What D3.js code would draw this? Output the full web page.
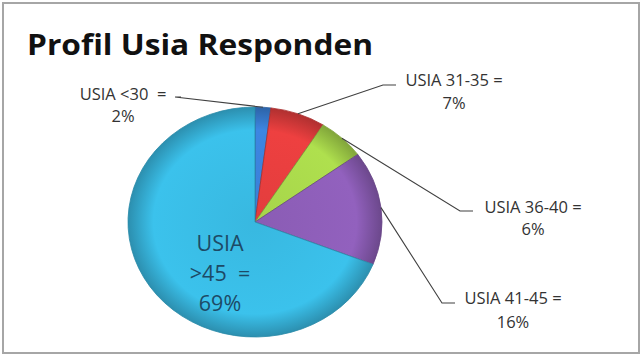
<!DOCTYPE html>
<html>
<head>
<meta charset="utf-8">
<script src="https://cdn.jsdelivr.net/npm/d3@7"></script>
<style>
  body { margin: 0; background: #fff; }
  text { font-family: "Open Sans", "DejaVu Sans", sans-serif; white-space: pre; }
</style>
</head>
<body>
<div id="chart"></div>
<script>
var svgWidth = 644;
var svgHeight = 358;

// data
var categories = ["USIA <30", "USIA 31-35", "USIA 36-40", "USIA 41-45", "USIA >45"];
var values = [2, 7, 6, 16, 69];
var colors = ["#3a7fd6", "#e23d3d", "#a6d44a", "#8a5cb4", "#38b8e0"];

// pie geometry (tilted look = ellipse)
var cx = 255, cy = 222, rx = 127, ry = 115;

var svg = d3.select("#chart")
  .append("svg")
  .attr("width", svgWidth)
  .attr("height", svgHeight);

// frame
svg.append("rect")
  .attr("x", 3).attr("y", 3)
  .attr("width", 636).attr("height", 350)
  .attr("fill", "#fff")
  .attr("stroke", "#a6a6a6")
  .attr("stroke-width", 2);

// title
svg.append("text")
  .attr("x", 27).attr("y", 55)
  .attr("font-size", 29)
  .attr("font-weight", "bold")
  .attr("fill", "#111")
  .attr("textLength", 346)
  .attr("lengthAdjust", "spacingAndGlyphs")
  .text("Profil Usia Responden");

// gradients for a shaded look
var defs = svg.append("defs");
colors.forEach(function(c, i) {
  var g = defs.append("radialGradient")
    .attr("id", "grad" + i)
    .attr("gradientUnits", "userSpaceOnUse")
    .attr("cx", 0).attr("cy", 0).attr("r", ry);
  g.append("stop").attr("offset", "0%").attr("stop-color", c);
  g.append("stop").attr("offset", "80%").attr("stop-color", d3.color(c).brighter(0.15));
  g.append("stop").attr("offset", "100%").attr("stop-color", d3.color(c).darker(0.7));
});

var pie = d3.pie().sort(null).value(function(d) { return d; });
var arcs = pie(values);
var arc = d3.arc().innerRadius(0).outerRadius(ry);

var pieG = svg.append("g")
  .attr("transform", "translate(" + cx + "," + cy + ") scale(" + (rx / ry) + ",1)");

pieG.selectAll("path")
  .data(arcs)
  .enter()
  .append("path")
  .attr("d", arc)
  .attr("fill", function(d, i) { return "url(#grad" + i + ")"; })
  .attr("stroke", function(d, i) { return d3.color(colors[i]).darker(0.8); })
  .attr("stroke-width", 0.8)
  .attr("vector-effect", "non-scaling-stroke");

// point on the ellipse edge at the middle of a slice
function edgePoint(d) {
  var a = (d.startAngle + d.endAngle) / 2;
  return [cx + rx * Math.sin(a), cy - ry * Math.cos(a)];
}

// outside labels: elbow point, text position and lines
var labelPos = [
  { elbow: [175, 97], tip: [181, 97], tx: 123, ty: [100, 122] },
  { elbow: [383, 85], tip: [396, 85], tx: 454, ty: [86, 109] },
  { elbow: [460, 211], tip: [473, 211], tx: 533, ty: [213, 235] },
  { elbow: [442, 303], tip: [455, 303], tx: 513, ty: [304, 328] }
];

var labelLines = [
  ["USIA <30  =", "2%"],
  ["USIA 31-35 =", "7%"],
  ["USIA 36-40 =", "6%"],
  ["USIA 41-45 =", "16%"]
];

labelPos.forEach(function(p, i) {
  var e = edgePoint(arcs[i]);
  svg.append("polyline")
    .attr("points", [e, p.elbow, p.tip].map(function(q) { return q.join(","); }).join(" "))
    .attr("fill", "none")
    .attr("stroke", "#404040")
    .attr("stroke-width", 1.1);
  labelLines[i].forEach(function(t, j) {
    svg.append("text")
      .attr("x", p.tx).attr("y", p.ty[j])
      .attr("text-anchor", "middle")
      .attr("font-size", 16.5)
      .attr("fill", "#333")
      .text(t);
  });
});

// inside label for the big slice
var inside = ["USIA", ">45  =", "69%"];
inside.forEach(function(t, j) {
  svg.append("text")
    .attr("x", 220).attr("y", 251 + j * 30)
    .attr("text-anchor", "middle")
    .attr("font-size", 21.5)
    .attr("fill", "#1d4a66")
    .text(t);
});
</script>
</body>
</html>
